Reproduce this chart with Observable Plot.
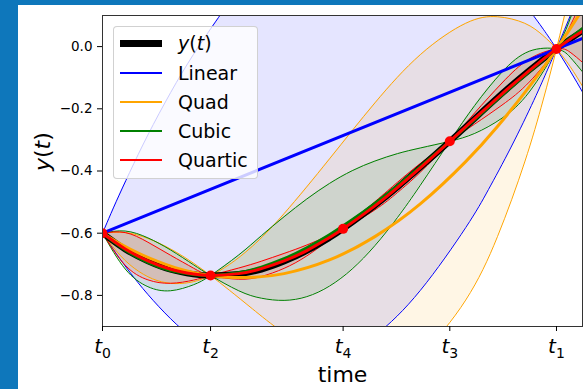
<!DOCTYPE html>
<html>
<head>
<meta charset="utf-8">
<script src="https://cdn.jsdelivr.net/npm/d3@7"></script>
<script src="https://cdn.jsdelivr.net/npm/@observablehq/plot@0.6"></script>
<style>
  body { margin: 0; }
  #wrap { position: relative; width: 583px; height: 389px; background: #0e77bb; overflow: hidden; font-family: "DejaVu Sans", sans-serif; }
  #paper { position: absolute; left: 18px; top: 5px; right: 0; bottom: 0; background: #fff; }
  #chart { position: absolute; left: 0; top: 0; }
  #legend { position: absolute; left: 113px; top: 26px; width: 145px; height: 153px; box-sizing: border-box;
            background: rgba(255,255,255,0.8); border: 1px solid rgba(204,204,204,0.9); border-radius: 4px; }
  .lrow-sw { position: absolute; left: 6px; width: 42px; }
  .lrow-tx { position: absolute; left: 64px; height: 28px; line-height: 28px; font-size: 19px; color: #000; white-space: nowrap; }
</style>
</head>
<body>
<div id="wrap">
  <div id="paper"></div>
  <div id="chart"></div>
  <div id="legend"></div>
</div>
<script>
// ---------- data ----------
const tTicks = [0, 0.238, 0.530, 0.765, 1.0];
const tTickNames = ["t_0", "t_2", "t_4", "t_3", "t_1"];
const yTicks = [-0.8, -0.6, -0.4, -0.2, 0.0];

const obsT = [0, 0.238, 0.530, 0.765, 1.0];
const obsY = [-0.600, -0.736, -0.586, -0.3045, -0.0075];

const trueT = [0, 0.05, 0.1, 0.15, 0.2, 0.238, 0.3, 0.35, 0.4, 0.45, 0.5, 0.53, 0.6, 0.65, 0.7, 0.765, 0.82, 0.88, 0.94, 1.0, 1.03, 1.06];
const trueY = [-0.600, -0.652, -0.690, -0.717, -0.732, -0.736, -0.731, -0.717, -0.691, -0.657, -0.615, -0.586, -0.511, -0.452, -0.389, -0.3045, -0.231, -0.151, -0.076, -0.0075, 0.024, 0.053];

// Linear
const linMeanT = [0, 1.06];
const linMean = [-0.600, 0.028];
const linT = [0, 0.01, 0.03, 0.06, 0.1, 0.15, 0.2, 0.25, 0.3, 0.4, 0.5, 0.6, 0.7, 0.8, 0.85, 0.9, 0.95, 0.98, 1.0, 1.03, 1.06];
const linEdgeA = [-0.600, -0.566, -0.499, -0.404, -0.284, -0.148, -0.026, 0.082, 0.176, 0.321, 0.409, 0.440, 0.413, 0.330, 0.267, 0.190, 0.098, 0.037, -0.0075, -0.078, -0.153];
const linEdgeB = [-0.600, -0.622, -0.665, -0.725, -0.797, -0.875, -0.938, -0.986, -1.021, -1.047, -1.016, -0.929, -0.784, -0.582, -0.460, -0.323, -0.173, -0.075, -0.0075, 0.098, 0.209];

// Quad
const quadT = [0, 0.04, 0.08, 0.12, 0.16, 0.2, 0.238, 0.28, 0.33, 0.4, 0.5, 0.6, 0.7, 0.8, 0.87, 0.93, 0.97, 1.0, 1.03, 1.06];
const quadMean = [-0.600, -0.635, -0.665, -0.690, -0.711, -0.726, -0.736, -0.742, -0.742, -0.730, -0.686, -0.611, -0.506, -0.370, -0.257, -0.148, -0.070, -0.0075, 0.058, 0.125];
const quadEdgeA = [-0.600, -0.597, -0.607, -0.629, -0.659, -0.696, -0.736, -0.784, -0.843, -0.922, -1.010, -1.041, -0.986, -0.815, -0.611, -0.371, -0.175, -0.0075, 0.179, 0.384];
const quadEdgeB = [-0.600, -0.673, -0.723, -0.752, -0.762, -0.756, -0.736, -0.700, -0.642, -0.537, -0.361, -0.181, -0.026, 0.075, 0.096, 0.075, 0.036, -0.0075, -0.064, -0.134];

// Cubic
const cubT = [0, 0.05, 0.1, 0.15, 0.2, 0.238, 0.3, 0.35, 0.4, 0.45, 0.5, 0.55, 0.6, 0.65, 0.7, 0.765, 0.82, 0.88, 0.94, 1.0, 1.03, 1.06];
const cubMean = [-0.600, -0.654, -0.694, -0.720, -0.733, -0.736, -0.727, -0.709, -0.682, -0.647, -0.605, -0.557, -0.504, -0.447, -0.386, -0.3045, -0.234, -0.156, -0.080, -0.0075, 0.027, 0.061];
const cubEdgeA = [-0.600, -0.715, -0.772, -0.785, -0.766, -0.736, -0.670, -0.608, -0.547, -0.490, -0.440, -0.399, -0.368, -0.344, -0.326, -0.3045, -0.279, -0.230, -0.146, -0.0075, 0.089, 0.207];
const cubEdgeB = [-0.600, -0.593, -0.615, -0.654, -0.701, -0.736, -0.785, -0.809, -0.816, -0.804, -0.770, -0.715, -0.640, -0.549, -0.446, -0.3045, -0.189, -0.082, -0.015, -0.0075, -0.034, -0.086];

// Quartic
const quarT = [0, 0.05, 0.1, 0.15, 0.2, 0.238, 0.3, 0.35, 0.4, 0.45, 0.5, 0.53, 0.6, 0.65, 0.7, 0.765, 0.82, 0.88, 0.94, 1.0, 1.03, 1.06];
const quarMean = [-0.600, -0.6505, -0.689, -0.716, -0.7315, -0.736, -0.730, -0.714, -0.689, -0.656, -0.614, -0.586, -0.512, -0.453, -0.390, -0.3045, -0.231, -0.152, -0.077, -0.0075, 0.024, 0.052];
const quarEdgeA = [-0.600, -0.598, -0.629, -0.671, -0.712, -0.736, -0.748, -0.739, -0.713, -0.673, -0.621, -0.586, -0.499, -0.436, -0.376, -0.3045, -0.249, -0.188, -0.114, -0.0075, 0.066, 0.159];
const quarEdgeB = [-0.600, -0.703, -0.750, -0.761, -0.751, -0.736, -0.712, -0.690, -0.665, -0.638, -0.607, -0.586, -0.525, -0.469, -0.404, -0.3045, -0.213, -0.117, -0.040, -0.0075, -0.018, -0.054];

const seriesNames = ["Linear", "Quad", "Cubic", "Quartic"];
const trueName = "y(t)";

// ---------- styles ----------
const colors = {"Linear": "blue", "Quad": "orange", "Cubic": "green", "Quartic": "red"};

// ---------- tables built from the arrays ----------
const modelData = [
  {name: "Linear", t: linT, a: linEdgeA, b: linEdgeB, mt: linMeanT, m: linMean, curve: "linear"},
  {name: "Quad", t: quadT, a: quadEdgeA, b: quadEdgeB, mt: quadT, m: quadMean, curve: "natural"},
  {name: "Cubic", t: cubT, a: cubEdgeA, b: cubEdgeB, mt: cubT, m: cubMean, curve: "natural"},
  {name: "Quartic", t: quarT, a: quarEdgeA, b: quarEdgeB, mt: quarT, m: quarMean, curve: "natural"}
].map(d => ({
  ...d,
  band: d.t.map((t, i) => ({t, a: d.a[i], b: d.b[i]})),
  mean: d.mt.map((t, i) => ({t, y: d.m[i]}))
}));
const trueRows = trueT.map((t, i) => ({t, y: trueY[i]}));
const obsRows = obsT.map((t, i) => ({t, y: obsY[i]}));
const tickName = new Map(tTicks.map((t, i) => [t, tTickNames[i]]));

const fills = modelData.map(d => Plot.areaY(d.band, {x: "t", y1: "a", y2: "b", fill: colors[d.name], fillOpacity: 0.1, curve: "natural", clip: true}));
const edges = modelData.flatMap(d => [
  Plot.line(d.band, {x: "t", y: "a", stroke: colors[d.name], strokeWidth: 1, curve: "natural", clip: true}),
  Plot.line(d.band, {x: "t", y: "b", stroke: colors[d.name], strokeWidth: 1, curve: "natural", clip: true})
]);
const means = modelData.map(d => Plot.line(d.mean, {x: "t", y: "y", stroke: colors[d.name], strokeWidth: 3, curve: d.curve, clip: true}));

const chart = Plot.plot({
  width: 583,
  height: 389,
  marginLeft: 102,
  marginRight: 1,
  marginTop: 15,
  marginBottom: 63,
  style: {background: "transparent", fontFamily: "DejaVu Sans", fontSize: "14px", color: "black"},
  x: {domain: [0, 1.0573]},
  y: {domain: [-0.9, 0.1]},
  marks: [
    ...fills,
    ...edges,
    Plot.line(trueRows, {x: "t", y: "y", stroke: "black", strokeWidth: 6, curve: "natural", clip: true}),
    ...means,
    Plot.dot(obsRows, {x: "t", y: "y", r: 5, fill: "red", clip: true}),
    Plot.frame({stroke: "#333", strokeWidth: 1}),
    Plot.axisX({ticks: tTicks, tickFormat: d => tickName.get(d), tickSize: 5, tickPadding: 7, fontSize: 20, label: null}),
    Plot.axisY({ticks: yTicks, tickFormat: d3.format(".1f"), tickSize: 5, tickPadding: 5, fontSize: 13.5, label: null}),
    Plot.text(["time"], {frameAnchor: "bottom", dy: 55, fontSize: 22}),
    Plot.text([trueName], {frameAnchor: "left", dx: -60, rotate: -90, fontSize: 22})
  ]
});

// ---------- math-style text (italic letters, subscripts) ----------
const svgNS = "http://www.w3.org/2000/svg";
function mathParts(src) {
  const parts = [];
  for (let i = 0; i < src.length; i++) {
    const ch = src[i];
    if (ch === "_") parts.push({text: src[++i], sub: true});
    else parts.push({text: ch, italic: /[a-z]/i.test(ch)});
  }
  return parts;
}
const mathLabels = new Set([...tTickNames, trueName]);
chart.querySelectorAll("text").forEach(el => {
  const src = el.textContent;
  if (!mathLabels.has(src)) return;
  el.textContent = "";
  for (const p of mathParts(src)) {
    const ts = document.createElementNS(svgNS, "tspan");
    ts.textContent = p.text;
    if (p.italic) ts.setAttribute("font-style", "italic");
    if (p.sub) { ts.setAttribute("font-size", "70%"); ts.setAttribute("dy", "0.35em"); }
    el.appendChild(ts);
  }
});
document.getElementById("chart").appendChild(chart);

// ---------- legend ----------
const legend = document.getElementById("legend");
const legendItems = [{name: trueName, color: "black", lw: 7}, ...seriesNames.map(n => ({name: n, color: colors[n], lw: 2}))];
legendItems.forEach((item, i) => {
  const cy = 16.3 + i * 29.2;
  const sw = document.createElement("div");
  sw.className = "lrow-sw";
  sw.style.top = (cy - item.lw / 2) + "px";
  sw.style.height = item.lw + "px";
  sw.style.background = item.color;
  legend.appendChild(sw);
  const tx = document.createElement("div");
  tx.className = "lrow-tx";
  tx.style.top = (cy - 14) + "px";
  if (item.name === trueName) {
    for (const p of mathParts(item.name)) {
      const s = document.createElement("span");
      s.textContent = p.text;
      if (p.italic) s.style.fontStyle = "italic";
      tx.appendChild(s);
    }
  } else {
    tx.textContent = item.name;
  }
  legend.appendChild(tx);
});
</script>
</body>
</html>
